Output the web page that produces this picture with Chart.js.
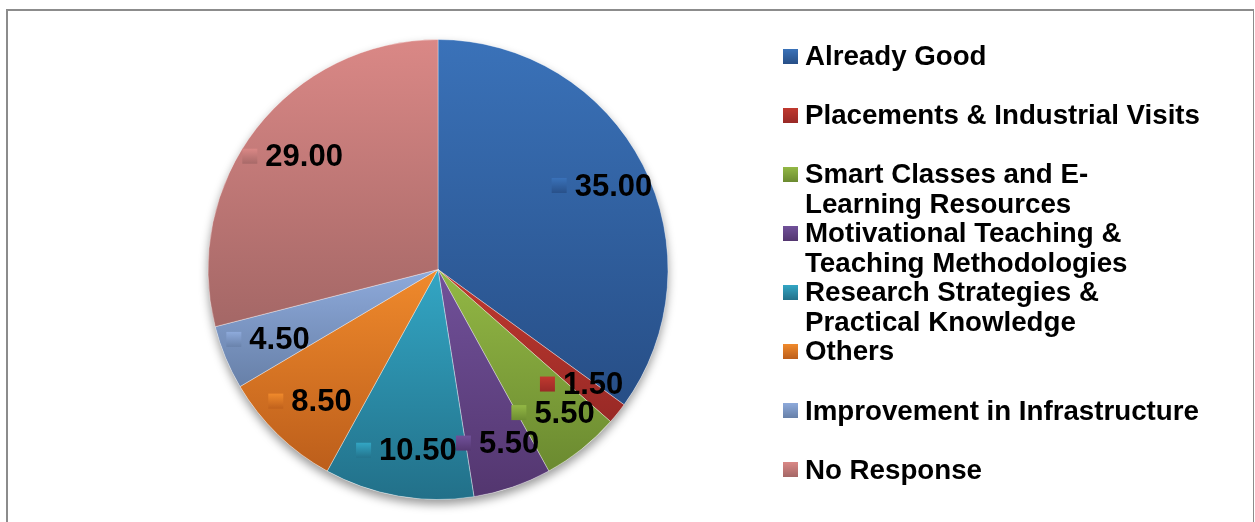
<!DOCTYPE html>
<html>
<head>
<meta charset="utf-8">
<script src="https://cdn.jsdelivr.net/npm/chart.js@4/dist/chart.umd.min.js"></script>
<style>
  html, body { margin: 0; padding: 0; background: #fff; }
  #wrap { position: relative; width: 1255px; height: 522px; overflow: hidden; font-family: "Liberation Sans", Arial, sans-serif; }
  #frame { position: absolute; left: 6px; top: 9px; width: 1245px; height: 600px; border-top: 2px solid #8c8c8c; border-left: 2px solid #8c8c8c; border-right: 1px solid #8c8c8c; }
  #pie { position: absolute; left: 0; top: 0; }
  #legend { position: absolute; left: 783px; top: 41px; width: 450px; }
  .item { height: 59.1px; display: flex; align-items: flex-start; }
  .box { width: 15px; height: 15px; margin-top: 7.5px; margin-right: 7px; flex: none; }
  .txt { font-weight: bold; font-size: 27.7px; line-height: 30px; color: #000; white-space: nowrap; }
</style>
</head>
<body>
<div id="wrap">
  <div id="frame"></div>
  <canvas id="pie" width="1255" height="522"></canvas>
  <div id="legend"></div>
</div>
<script>
const categories = [
  'Already Good',
  'Placements & Industrial Visits',
  ['Smart Classes and E-', 'Learning Resources'],
  ['Motivational Teaching &', 'Teaching Methodologies'],
  ['Research Strategies &', 'Practical Knowledge'],
  'Others',
  'Improvement in Infrastructure',
  'No Response'
];
const responses = [35.00, 1.50, 5.50, 5.50, 10.50, 8.50, 4.50, 29.00];
const topColors = ['#3a72b9', '#c0392f', '#93b845', '#71519a', '#33a6c4', '#f08a2c', '#8eaadb', '#da8886'];
const bottomColors = ['#274e86', '#982926', '#6b8a30', '#53366f', '#227089', '#bc5e1b', '#6780a8', '#a46766'];

const total = responses.reduce((a, b) => a + b, 0);

// vertical extent of a slice, so each slice gets its own top-to-bottom gradient
function sliceGradient(chart, i) {
  const area = chart.chartArea;
  if (!area) return topColors[i];
  const cx = (area.left + area.right) / 2;
  const cy = (area.top + area.bottom) / 2;
  const r = Math.min(area.right - area.left, area.bottom - area.top) / 2;
  let cum = 0;
  for (let k = 0; k < i; k++) cum += responses[k];
  const a0 = -Math.PI / 2 + 2 * Math.PI * cum / total;
  const a1 = a0 + 2 * Math.PI * responses[i] / total;
  const ys = [cy, cy + r * Math.sin(a0), cy + r * Math.sin(a1)];
  const inArc = (a) => {
    for (let t = a - 4 * Math.PI; t <= a + 4 * Math.PI; t += 2 * Math.PI) {
      if (t >= a0 && t <= a1) return true;
    }
    return false;
  };
  if (inArc(-Math.PI / 2)) ys.push(cy - r);
  if (inArc(Math.PI / 2)) ys.push(cy + r);
  const g = chart.ctx.createLinearGradient(0, Math.min(...ys), 0, Math.max(...ys));
  g.addColorStop(0, topColors[i]);
  g.addColorStop(1, bottomColors[i]);
  return g;
}

const shadowPlugin = {
  id: 'shadow',
  beforeDatasetsDraw(chart) {
    const arc = chart.getDatasetMeta(0).data[0];
    if (!arc) return;
    const ctx = chart.ctx;
    ctx.save();
    ctx.shadowColor = 'rgba(0,0,0,0.4)';
    ctx.shadowBlur = 10;
    ctx.shadowOffsetY = 5;
    ctx.fillStyle = '#fff';
    ctx.beginPath();
    ctx.arc(arc.x, arc.y, arc.outerRadius, 0, Math.PI * 2);
    ctx.fill();
    ctx.restore();
  }
};

const valueLabels = {
  id: 'valueLabels',
  afterDatasetsDraw(chart) {
    const ctx = chart.ctx;
    ctx.save();
    ctx.font = 'bold 31px "Liberation Sans", Arial, sans-serif';
    ctx.textBaseline = 'middle';
    chart.getDatasetMeta(0).data.forEach((arc, i) => {
      const p = arc.getProps(['x', 'y', 'startAngle', 'endAngle', 'outerRadius']);
      const mid = (p.startAngle + p.endAngle) / 2;
      const lx = p.x + Math.cos(mid) * p.outerRadius * 0.8;
      const ly = p.y + Math.sin(mid) * p.outerRadius * 0.8;
      const text = responses[i].toFixed(2);
      const w = ctx.measureText(text).width;
      const left = lx - (15 + 8 + w) / 2;
      const g = ctx.createLinearGradient(0, ly - 8, 0, ly + 8);
      g.addColorStop(0, topColors[i]);
      g.addColorStop(1, bottomColors[i]);
      ctx.fillStyle = g;
      ctx.fillRect(left, ly - 8, 15, 15);
      ctx.fillStyle = '#000';
      ctx.fillText(text, left + 23, ly + 1);
    });
    ctx.restore();
  }
};

new Chart(document.getElementById('pie').getContext('2d'), {
  type: 'pie',
  data: {
    labels: categories,
    datasets: [{
      data: responses,
      backgroundColor: (c) => sliceGradient(c.chart, c.dataIndex),
      borderColor: 'rgba(255,255,255,0.35)',
      borderWidth: 1,
      hoverOffset: 0
    }]
  },
  options: {
    responsive: false,
    animation: false,
    events: [],
    layout: { padding: { left: 207, right: 586, top: 39, bottom: 22 } },
    plugins: {
      legend: { display: false },
      tooltip: { enabled: false }
    }
  },
  plugins: [shadowPlugin, valueLabels]
});

// legend on the right, one slot per category
const legend = document.getElementById('legend');
categories.forEach((label, i) => {
  const item = document.createElement('div');
  item.className = 'item';
  const box = document.createElement('div');
  box.className = 'box';
  box.style.background = `linear-gradient(${topColors[i]}, ${bottomColors[i]})`;
  const txt = document.createElement('div');
  txt.className = 'txt';
  (Array.isArray(label) ? label : [label]).forEach((line, k) => {
    if (k) txt.appendChild(document.createElement('br'));
    txt.appendChild(document.createTextNode(line));
  });
  item.appendChild(box);
  item.appendChild(txt);
  legend.appendChild(item);
});
</script>
</body>
</html>
